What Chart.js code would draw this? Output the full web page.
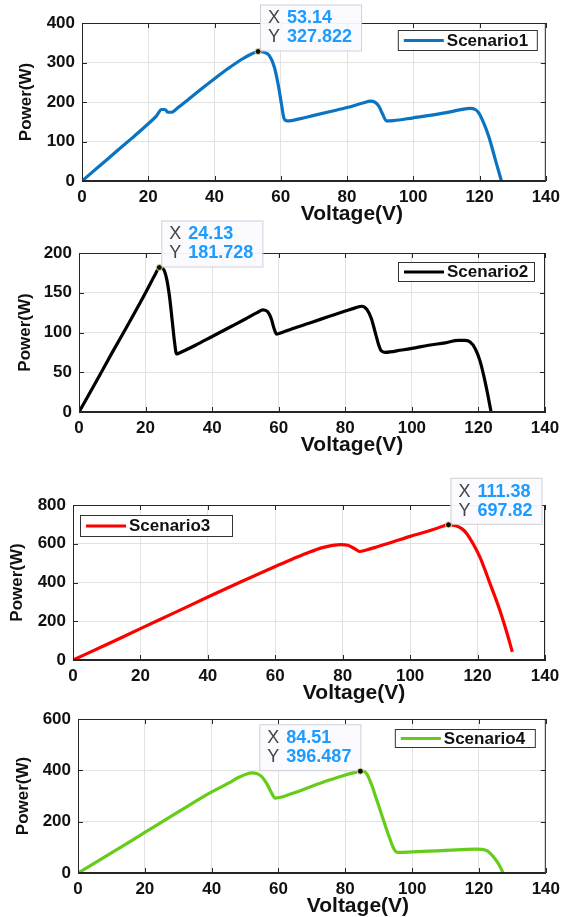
<!DOCTYPE html>
<html lang="en">
<head>
    <meta charset="UTF-8">
    <title>P-V curves, four shading scenarios</title>
    <script src="https://cdn.jsdelivr.net/npm/chart.js@4.4.0/dist/chart.umd.min.js"></script>
    <style>
        html, body { margin: 0; padding: 0; background: #fff; overflow: hidden; }
        body { width: 566px; height: 917px; position: relative; }
        .panel { position: absolute; left: 0; width: 566px; }
        .panel canvas { display: block; }
    </style>
</head>
<body>

<div class="panel" style="top:0px"><canvas id="c1" width="566" height="229"></canvas></div>
<div class="panel" style="top:218px"><canvas id="c2" width="566" height="242"></canvas></div>
<div class="panel" style="top:470px"><canvas id="c3" width="566" height="238"></canvas></div>
<div class="panel" style="top:700px"><canvas id="c4" width="566" height="221"></canvas></div>

<script>
// ---- data (voltage in V, power in W) ----
const volt1  = [0, 5, 10, 15, 20, 22.5, 24, 25, 26, 27, 29, 32, 36, 40, 44, 48, 51, 53.14, 55, 56.5, 58, 59.2, 60.2, 61, 62, 66, 70, 75, 80, 85, 87, 88.5, 89.7, 90.7, 91.9, 94, 100, 105, 110, 114, 117.2, 118.7, 119.8, 121.3, 122.8, 124.8, 126.6];
const power1 = [0, 36, 72, 108, 145, 165, 181, 181, 174, 174, 186, 206, 233, 259, 284, 307, 321, 327.8, 326, 318, 290, 245, 195, 158, 152, 158, 166, 176, 186, 198, 202, 199, 188, 170, 152, 153, 160, 166, 173, 180, 184, 181, 172, 146, 112, 53, 0];

const volt2  = [0, 5, 10, 15, 20, 23, 24.13, 25.3, 26.3, 27.2, 28, 28.7, 29.3, 30, 35, 40, 45, 50, 53.5, 55.3, 56.7, 57.8, 58.6, 59.4, 61, 65, 70, 75, 80, 83, 85, 86.5, 87.8, 89, 90, 90.8, 92, 97, 100, 105, 110, 114, 116, 117.5, 119, 120.5, 121.8, 122.8, 123.8];
const power2 = [0, 37, 75, 112, 150, 174, 181.7, 180, 168, 145, 115, 88, 73, 74, 84, 95, 106, 117, 125, 128.5, 126, 117, 105, 98, 100, 106, 113, 120, 127, 131, 133, 129, 118, 100, 85, 77, 75, 78, 80, 84, 87, 90, 90, 88, 80, 64, 42, 22, 0];

const volt3  = [0, 10, 20, 30, 40, 50, 60, 65, 70, 74, 77, 79.5, 81.5, 83.5, 85, 87, 90, 95, 100, 105, 108, 111.38, 113.3, 115.3, 116.8, 118.8, 120.7, 122.2, 123.7, 125.2, 126.6, 128.5, 130.3];
const power3 = [0, 80, 162, 243, 325, 405, 483, 520, 556, 580, 592, 596, 592, 575, 560, 568, 583, 610, 638, 663, 680, 697.8, 694, 678, 652, 596, 531, 465, 394, 325, 257, 152, 42];

const volt4  = [0, 10, 20, 30, 40, 45, 48, 50.5, 52, 53.5, 55, 56.5, 57.8, 59, 61, 65, 70, 75, 80, 83, 84.51, 85.5, 86.5, 87.3, 88.1, 89, 90, 91, 92, 93, 94, 95, 96, 100, 105, 110, 115, 119, 121, 122.5, 124, 125.5, 126.5, 127.2];
const power4 = [0, 78, 158, 238, 316, 350, 372, 386, 390, 388, 375, 348, 315, 292, 296, 314, 338, 361, 382, 392, 396.5, 396, 385, 362, 336, 300, 262, 222, 183, 145, 110, 85, 80, 82, 85, 88, 91, 93, 92, 86, 68, 42, 20, 0];

// maximum power points marked with data tips
const mppVolt  = [53.14, 24.13, 111.38, 84.51];
const mppPower = [327.822, 181.728, 697.82, 396.487];
const mppVoltText  = ['53.14', '24.13', '111.38', '84.51'];
const mppPowerText = ['327.822', '181.728', '697.82', '396.487'];

const seriesNames = ['Scenario1', 'Scenario2', 'Scenario3', 'Scenario4'];
const xTicks = [0, 20, 40, 60, 80, 100, 120, 140];
const yMax  = [400, 200, 800, 600];
const yStep = [100, 50, 200, 200];

const FONT = "'Liberation Sans', Arial, Helvetica, sans-serif";

// draws the matlab-ish box, inward ticks, x label, legend and data tip
const decoPlugin = {
    id: 'deco',
    afterDraw(chart, args, o) {
        const ctx = chart.ctx;
        const a = chart.chartArea;
        const xs = chart.scales.x, ys = chart.scales.y;
        ctx.save();

        // frame + inward tick marks
        ctx.strokeStyle = '#262626';
        ctx.lineWidth = 1;
        ctx.strokeRect(a.left + 0.5, a.top + 0.5, a.right - a.left - 1, a.bottom - a.top - 1);
        ctx.beginPath();
        xs.ticks.forEach(t => {
            const px = Math.round(xs.getPixelForValue(t.value)) + 0.5;
            ctx.moveTo(px, a.bottom); ctx.lineTo(px, a.bottom - 5);
            ctx.moveTo(px, a.top); ctx.lineTo(px, a.top + 5);
        });
        ys.ticks.forEach(t => {
            const py = Math.round(ys.getPixelForValue(t.value)) + 0.5;
            ctx.moveTo(a.left, py); ctx.lineTo(a.left + 5, py);
            ctx.moveTo(a.right, py); ctx.lineTo(a.right - 5, py);
        });
        ctx.stroke();

        // x axis title (sits right of centre in the original)
        ctx.fillStyle = '#111';
        ctx.font = 'bold 21px ' + FONT;
        ctx.textAlign = 'center';
        ctx.textBaseline = 'middle';
        ctx.fillText('Voltage(V)', (a.left + a.right) / 2 + o.titleShift, a.bottom + 33);

        // legend box
        const lg = o.legend;
        const lx = lg.fromRight ? a.right - lg.dx - lg.w : a.left + lg.dx;
        const ly = a.top + lg.dy;
        ctx.fillStyle = '#fff';
        ctx.fillRect(lx, ly, lg.w, lg.h);
        ctx.strokeStyle = '#333';
        ctx.lineWidth = 1;
        ctx.strokeRect(lx + 0.5, ly + 0.5, lg.w, lg.h);
        ctx.strokeStyle = o.color;
        ctx.lineWidth = 3;
        ctx.beginPath();
        ctx.moveTo(lx + 6, ly + lg.h / 2 + 0.5);
        ctx.lineTo(lx + 46, ly + lg.h / 2 + 0.5);
        ctx.stroke();
        ctx.fillStyle = '#111';
        ctx.font = 'bold 17px ' + FONT;
        ctx.textAlign = 'left';
        ctx.fillText(o.name, lx + 49, ly + lg.h / 2 + 1);

        // data tip
        const px = xs.getPixelForValue(o.tipX), py = ys.getPixelForValue(o.tipY);
        ctx.font = 'bold 18px ' + FONT;
        const tw = Math.max(ctx.measureText(o.tipXText).width, ctx.measureText(o.tipYText).width);
        const bw = tw + 36, bh = 46;
        const bx = o.tipSide === 'left' ? px - bw : px + 2;
        const by = py - bh - 1;
        ctx.fillStyle = 'rgba(250,250,255,0.95)';
        ctx.fillRect(bx, by, bw, bh);
        ctx.strokeStyle = '#cfd0d8';
        ctx.lineWidth = 1;
        ctx.strokeRect(bx + 0.5, by + 0.5, bw, bh);
        ctx.fillStyle = '#444';
        ctx.font = '18px ' + FONT;
        ctx.fillText('X', bx + 8, by + 14);
        ctx.fillText('Y', bx + 8, by + 33);
        ctx.fillStyle = '#1e9bff';
        ctx.font = 'bold 18px ' + FONT;
        ctx.fillText(o.tipXText, bx + 27, by + 14);
        ctx.fillText(o.tipYText, bx + 27, by + 33);

        // the marked point itself
        ctx.beginPath();
        ctx.arc(px, py, 3, 0, Math.PI * 2);
        ctx.fillStyle = '#111';
        ctx.fill();
        ctx.strokeStyle = '#e6dd9a';
        ctx.lineWidth = 1;
        ctx.stroke();
        ctx.restore();
    }
};

function makePanel(id, k, volt, power, color, plot, canvasTop, extra) {
    const pts = volt.map((v, i) => ({ x: v, y: power[i] }));
    return new Chart(document.getElementById(id), {
        type: 'scatter',
        data: {
            datasets: [{
                data: pts,
                showLine: true,
                borderColor: color,
                borderWidth: 3.2,
                pointRadius: 0,
                cubicInterpolationMode: 'monotone'
            }]
        },
        options: {
            responsive: false,
            animation: false,
            devicePixelRatio: 1,
            events: [],
            layout: { padding: { left: 0, right: 566 - plot.r, top: plot.t - canvasTop, bottom: 0 } },
            scales: {
                x: {
                    type: 'linear',
                    min: 0, max: 140,
                    afterBuildTicks: s => { s.ticks = xTicks.map(v => ({ value: v })); },
                    afterFit: s => { s.height = 48; },
                    grid: { color: '#e2e2e2', drawTicks: false },
                    border: { display: true, color: '#262626' },
                    ticks: { color: '#111', padding: 6, maxRotation: 0, font: { family: FONT, size: 17, weight: 'bold' } },
                    title: { display: false }
                },
                y: {
                    min: 0, max: yMax[k],
                    ticks: { stepSize: yStep[k], color: '#111', padding: 7, font: { family: FONT, size: 17, weight: 'bold' } },
                    afterFit: s => { s.width = plot.l; },
                    grid: { color: '#e2e2e2', drawTicks: false },
                    border: { display: true, color: '#262626' },
                    title: {
                        display: true, text: 'Power(W)', color: '#111',
                        font: { family: FONT, size: 17, weight: 'bold' },
                        padding: { top: extra.yTitlePad, bottom: 0 }
                    }
                }
            },
            plugins: {
                legend: { display: false },
                tooltip: { enabled: false },
                deco: {
                    color: color,
                    name: seriesNames[k],
                    titleShift: extra.titleShift,
                    legend: extra.legend,
                    tipX: mppVolt[k], tipY: mppPower[k],
                    tipXText: mppVoltText[k], tipYText: mppPowerText[k],
                    tipSide: extra.tipSide
                }
            }
        },
        plugins: [decoPlugin]
    });
}

makePanel('c1', 0, volt1, power1, '#0a74c2', { l: 82, r: 547, t: 23, b: 181 }, 0,
    { yTitlePad: 16, titleShift: 38, tipSide: 'right', legend: { fromRight: true, dx: 9, dy: 7, w: 139, h: 20 } });
makePanel('c2', 1, volt2, power2, '#000000', { l: 79, r: 545, t: 253, b: 412 }, 218,
    { yTitlePad: 15, titleShift: 40, tipSide: 'right', legend: { fromRight: true, dx: 11, dy: 9, w: 136, h: 19 } });
makePanel('c3', 2, volt3, power3, '#ff0000', { l: 73, r: 545, t: 505, b: 660 }, 470,
    { yTitlePad: 7, titleShift: 45, tipSide: 'right', legend: { fromRight: false, dx: 7, dy: 10, w: 152, h: 21 } });
makePanel('c4', 3, volt4, power4, '#66cc1a', { l: 78, r: 551, t: 719, b: 873 }, 700,
    { yTitlePad: 13, titleShift: 46, tipSide: 'left', legend: { fromRight: true, dx: 11, dy: 10, w: 140, h: 18 } });
</script>

</body>
</html>
